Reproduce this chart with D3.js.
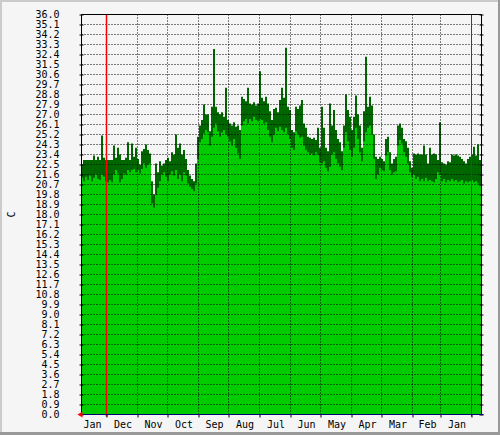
<!DOCTYPE html>
<html><head><meta charset="utf-8">
<script src="https://cdn.jsdelivr.net/npm/d3@7"></script>
<style>
body{margin:0;background:#f5f5f5}
svg{display:block}
text{font-family:"DejaVu Sans Mono",monospace;font-size:10px;fill:#000}
</style>
</head><body>
<svg id="c" width="500" height="435"></svg>
<script>
// ---- data ----
const monthLabels = ["Jan","Dec","Nov","Oct","Sep","Aug","Jul","Jun","May","Apr","Mar","Feb","Jan"];
const yTickLabels = ["0.0","0.9","1.8","2.7","3.6","4.5","5.4","6.3","7.2","8.1","9.0","9.9","10.8","11.7","12.6","13.5","14.4","15.3","16.2","17.1","18.0","18.9","19.8","20.7","21.6","22.5","23.4","24.3","25.2","26.1","27.0","27.9","28.8","29.7","30.6","31.5","32.4","33.3","34.2","35.1","36.0"];
const yAxisTitle = "C";
// samples every 2 days, newest (left) first
const maxTemp = [
22.5,22.9,22.9,22.9,22.9,22.9,23.3,22.9,23.2,22.9,25.1,23.1,22.9,22.9,22.9,22.9,24.2,23.1,24.0,23.4,22.9,22.9,23.1,24.5,22.9,24.4,23.2,24.0,23.0,22.5,23.7,23.9,24.3,23.8,23.5,
21.0,19.8,22.6,21.8,22.8,22.4,22.6,22.9,23.1,22.8,23.6,23.4,25.2,24.0,24.4,23.4,23.8,23.0,22.0,21.5,21.2,21.0,22.6,25.0,26.0,
26.5,27.9,27.0,27.0,25.5,27.7,32.9,27.7,27.2,27.0,27.2,26.8,29.4,26.5,26.2,26.0,26.3,25.9,26.0,25.6,28.6,28.4,28.2,29.4,28.0,27.9,28.1,27.8,28.0,30.9,28.5,28.2,28.6,28.0,27.3,26.5,27.5,27.6,27.2,28.3,29.4,28.5,
33.0,27.7,27.4,25.6,25.4,27.7,27.5,27.8,28.3,26.2,25.8,25.0,24.9,24.8,24.9,24.7,25.8,24.0,27.7,25.8,24.0,23.7,28.0,26.0,27.4,25.6,24.8,24.5,23.7,26.0,28.8,27.4,26.8,
25.6,26.8,28.7,27.0,26.0,24.0,27.3,32.2,27.7,28.6,27.8,25.2,23.2,23.0,23.2,23.0,22.8,24.8,25.0,23.6,22.6,23.0,23.2,26.0,26.2,25.8,24.8,24.6,24.0,22.8,22.2,23.5,23.4,23.5,23.4,
23.4,24.2,23.4,22.6,24.0,23.4,23.5,23.4,22.9,26.3,22.7,22.6,22.5,22.8,22.7,23.4,23.3,23.4,23.3,23.2,23.0,22.8,22.6,23.0,23.2,23.4,24.1,23.3,24.3,22.9,23.1
];
const avgTemp = [
21.3,21.0,21.4,21.1,21.5,21.0,21.3,21.6,21.2,21.1,21.6,21.4,21.0,20.9,21.1,20.9,21.6,22.0,21.7,20.9,21.2,21.7,21.6,22.0,21.8,22.0,22.1,21.8,22.0,21.7,22.1,22.6,22.2,22.5,22.6,
19.0,18.6,19.8,20.4,21.0,21.6,21.8,21.4,21.0,21.6,21.9,21.5,22.0,21.2,21.6,21.0,21.8,21.5,20.8,20.5,20.3,20.1,20.8,23.0,24.5,
24.8,25.3,25.6,25.4,24.2,25.0,25.8,26.2,25.5,25.0,25.4,25.6,25.2,25.0,24.6,24.2,24.8,24.0,23.5,23.0,26.0,26.4,26.6,26.2,26.6,26.4,26.8,26.5,26.4,26.6,26.5,26.2,26.3,25.6,25.0,24.5,25.2,25.8,25.5,25.9,25.6,25.4,
25.8,25.2,24.8,24.0,23.8,25.5,25.2,24.9,25.0,24.2,23.8,23.6,23.4,23.5,23.3,23.6,23.4,22.7,22.6,22.8,22.2,21.9,22.3,23.4,23.6,23.0,22.6,22.3,22.0,24.0,25.4,24.6,23.8,
23.2,24.0,25.8,24.8,23.6,22.8,24.6,25.4,25.8,26.0,25.2,23.0,21.2,21.6,22.2,22.0,21.9,23.3,23.6,22.0,21.6,21.8,21.9,24.2,24.7,24.4,23.6,23.2,22.6,21.8,21.4,21.6,21.2,21.4,21.0,
21.2,21.0,21.3,21.0,21.1,21.0,20.9,21.2,21.8,21.6,21.0,21.2,20.9,21.1,21.0,21.2,21.0,21.1,20.9,21.0,21.1,20.8,21.0,20.9,21.0,21.1,20.9,21.0,20.8,20.6,20.7
];
const newestDate = new Date(Date.UTC(2010,0,26));
const oldestDate = new Date(Date.UTC(2008,11,22));
const stepDays = 2;

// ---- layout ----
const W = 500, H = 435;
const L = 81.5, R = 481.5, T = 14.5, B = 414.5;
const svg = d3.select("#c");

const x = d3.scaleUtc().domain([newestDate, oldestDate]).range([L, R]);
const y = d3.scaleLinear().domain([0, 36]).range([B, T]);

svg.append("rect").attr("width", W).attr("height", H).attr("fill", "#f5f5f5");

const pts = maxTemp.map((v, i) => ({
  d: d3.utcDay.offset(newestDate, -stepDays * i),
  max: v, avg: avgTemp[i]
}));
pts.push({d: oldestDate, max: maxTemp[maxTemp.length-1], avg: avgTemp[avgTemp.length-1]});

svg.append("clipPath").attr("id","plot").append("rect")
  .attr("x", L).attr("y", T).attr("width", R - L).attr("height", B - T);
const g = svg.append("g").attr("clip-path","url(#plot)");

g.append("path").datum(pts).attr("fill","#006600")
  .attr("d", d3.area().curve(d3.curveStepAfter).x(p => x(p.d) - 0.5).y0(B).y1(p => y(p.max)));
g.append("path").datum(pts).attr("fill","#00cc00")
  .attr("d", d3.area().curve(d3.curveStepAfter).x(p => x(p.d) - 0.5).y0(B).y1(p => y(p.avg)));

// grid
const yVals = yTickLabels.map(Number);
svg.append("g").selectAll("line").data(yVals.slice(1, -1)).join("line")
  .attr("x1", L).attr("x2", R).attr("y1", d => y(d)).attr("y2", d => y(d))
  .attr("stroke","#000").attr("stroke-width",1).attr("stroke-dasharray","1,2");

const monthStarts = monthLabels.map((m, k) => d3.utcMonth.offset(d3.utcMonth.floor(newestDate), -k));
const yearStarts = monthStarts.filter(d => d.getUTCMonth() === 0);
svg.append("g").selectAll("line").data(monthStarts.filter(d => d.getUTCMonth() !== 0)).join("line")
  .attr("x1", d => x(d)).attr("x2", d => x(d)).attr("y1", T).attr("y2", B)
  .attr("stroke","#000").attr("stroke-width",1).attr("stroke-dasharray","1,2");

// red year lines
svg.append("g").selectAll("line").data(yearStarts).join("line")
  .attr("x1", d => x(d)).attr("x2", d => x(d)).attr("y1", T).attr("y2", B + 2)
  .attr("stroke", (d, i) => i === 0 ? "#ff0000" : "#dd0000")
  .attr("stroke-width", (d, i) => i === 0 ? 1.5 : 1);

// axes
const yAxisL = d3.axisLeft(y).tickValues(yVals).tickSize(2).tickFormat((d, i) => yTickLabels[i]);
const gl = svg.append("g").attr("transform", `translate(${L},0)`).call(yAxisL);
gl.select(".domain").remove();
gl.selectAll(".tick line").attr("x1", 2).attr("x2", -2).attr("stroke","#000");
gl.selectAll(".tick text").attr("x", -22).attr("dy","0.34em")
  .style("font-family",'"DejaVu Sans Mono",monospace').style("font-size","10px").attr("fill","#000");

const yAxisR = d3.axisRight(y).tickValues(yVals).tickSize(2).tickFormat("");
const gr = svg.append("g").attr("transform", `translate(${R},0)`).call(yAxisR);
gr.select(".domain").remove();
gr.selectAll(".tick line").attr("x1", -2).attr("x2", 2).attr("stroke","#000");

const xAxis = d3.axisBottom(x).tickValues(monthStarts).tickSize(3).tickFormat("");
const gx = svg.append("g").attr("transform", `translate(0,${B})`).call(xAxis);
gx.select(".domain").remove();
gx.selectAll(".tick line").attr("stroke","#000");

// month labels centred at mid-month
svg.append("g").selectAll("text").data(monthLabels).join("text")
  .attr("x", (m, k) => {
    const a = x(d3.utcMonth.offset(monthStarts[k], 1));
    const b = x(monthStarts[k]);
    return Math.max((a + b) / 2 + 1, L + 11);
  })
  .attr("y", 428).attr("text-anchor","middle").text(m => m);

// frame lines
svg.append("line").attr("x1", L).attr("x2", L).attr("y1", T).attr("y2", B).attr("stroke","#000");
svg.append("line").attr("x1", L).attr("x2", R).attr("y1", T).attr("y2", T).attr("stroke","#000");
svg.append("line").attr("x1", R).attr("x2", R).attr("y1", T).attr("y2", B).attr("stroke","#000");
svg.append("line").attr("x1", L).attr("x2", R + 2).attr("y1", B).attr("y2", B).attr("stroke","#000070");

// red arrow at axis origin
svg.append("path").attr("d", `M${L-4},${B} L${L+1},${B-3} L${L+1},${B+3} Z`).attr("fill","#ff0000");

// y title
svg.append("text").attr("transform", `translate(15,${(T+B)/2}) rotate(-90)`)
  .attr("text-anchor","middle").text(yAxisTitle);

// bevel frame
svg.append("rect").attr("x",0).attr("y",0).attr("width",W).attr("height",2).attr("fill","#cbcbcb");
svg.append("rect").attr("x",0).attr("y",0).attr("width",2).attr("height",H).attr("fill","#cbcbcb");
svg.append("rect").attr("x",W-2).attr("y",0).attr("width",2).attr("height",H).attr("fill","#999");
svg.append("rect").attr("x",0).attr("y",H-3).attr("width",W).attr("height",3).attr("fill","#999");
</script>
</body></html>
